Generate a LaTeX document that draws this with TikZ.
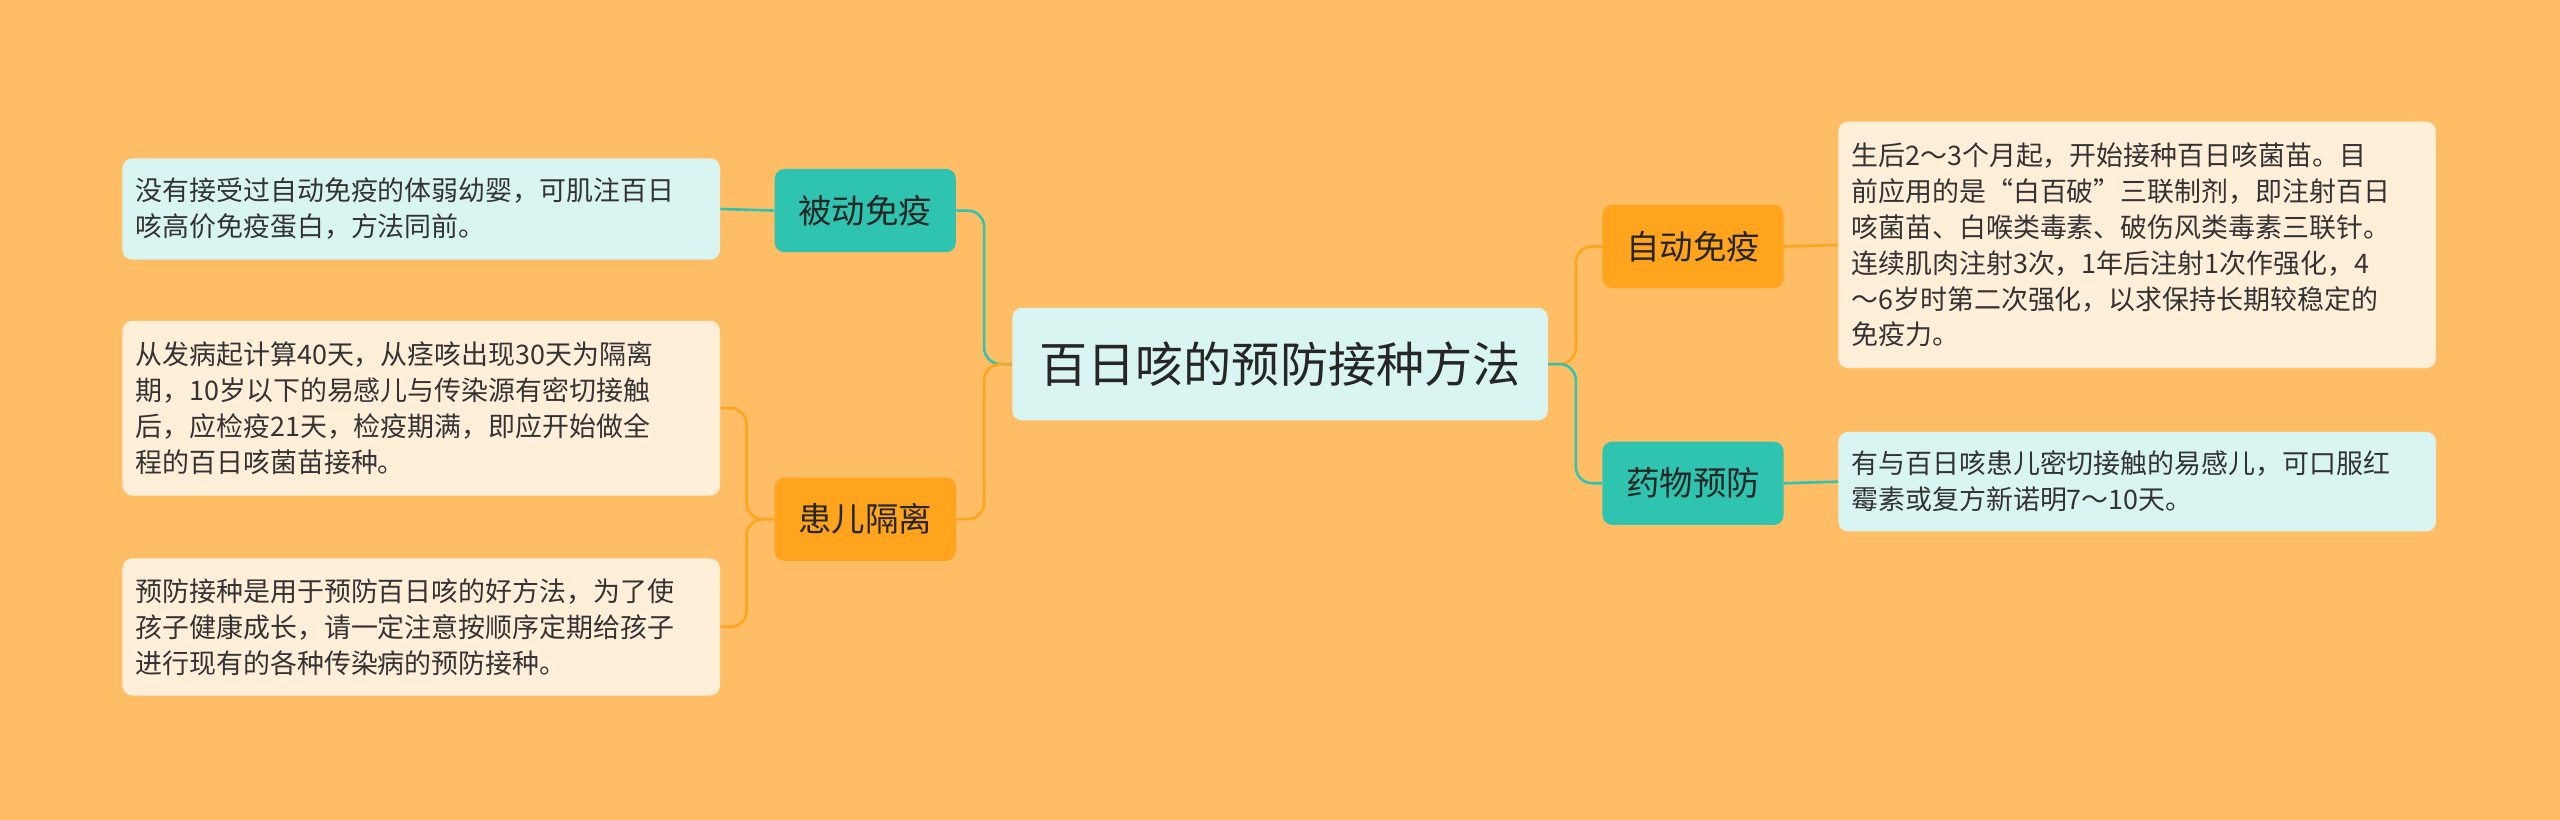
\documentclass[tikz,border=0pt]{standalone}
\usepackage{fontspec}
\setmainfont{Noto Sans CJK SC}
\begin{document}
\begin{tikzpicture}[x=1pt,y=-1pt,
  leaf/.style={rounded corners=6pt,minimum width=366pt,text width=350pt,inner sep=0pt,align=left,font=\fontsize{16.5}{22}\selectfont,text=black!80},
  branch/.style={rounded corners=6pt,minimum width=111pt,minimum height=51pt,font=\fontsize{20.5}{24}\selectfont,text=black!85},
  tl/.style={draw=teal1,line width=1.6pt,rounded corners=10pt},
  ol/.style={draw=org1,line width=1.6pt,rounded corners=10pt}]
\definecolor{bg}{HTML}{FFBE66}
\definecolor{teal1}{HTML}{2EC4B0}
\definecolor{org1}{HTML}{FFA41C}
\definecolor{lcyan}{HTML}{D8F5F1}
\definecolor{lcream}{HTML}{FFEFD9}
\fill[bg] (0,0) rectangle (1568,502);
\useasboundingbox (0,0) rectangle (1568,502);
\node[fill=lcyan,rounded corners=6pt,minimum width=328pt,minimum height=69pt,font=\fontsize{29.5}{32}\selectfont,text=black!85] (c) at (784,223) {百日咳的预防接种方法};
\node[branch,fill=teal1] (b1) at (530,129) {被动免疫};
\node[branch,fill=org1] (b2) at (530,318) {患儿隔离};
\node[branch,fill=org1] (r1) at (1037,151) {自动免疫};
\node[branch,fill=teal1] (r2) at (1037,296) {药物预防};
\node[leaf,fill=lcyan,minimum height=62pt] (l1) at (258,128) {没有接受过自动免疫的体弱幼婴，可肌注百日\\咳高价免疫蛋白，方法同前。};
\node[leaf,fill=lcream,minimum height=107pt] (l2) at (258,250) {从发病起计算40天，从痉咳出现30天为隔离\\期，10岁以下的易感儿与传染源有密切接触\\后，应检疫21天，检疫期满，即应开始做全\\程的百日咳菌苗接种。};
\node[leaf,fill=lcream,minimum height=84pt] (l3) at (258,384) {预防接种是用于预防百日咳的好方法，为了使\\孩子健康成长，请一定注意按顺序定期给孩子\\进行现有的各种传染病的预防接种。};
\node[leaf,fill=lcream,minimum height=151pt] (q1) at (1309,150) {生后2～3个月起，开始接种百日咳菌苗。目\\前应用的是“白百破”三联制剂，即注射百日\\咳菌苗、白喉类毒素、破伤风类毒素三联针。\\连续肌肉注射3次，1年后注射1次作强化，4\\～6岁时第二次强化，以求保持长期较稳定的\\免疫力。};
\node[leaf,fill=lcyan,minimum height=61pt] (q2) at (1309,295) {有与百日咳患儿密切接触的易感儿，可口服红\\霉素或复方新诺明7～10天。};
\draw[tl] (c.west) -- ++(-17,0) |- (b1.east);
\draw[ol] (c.west) -- ++(-17,0) |- (b2.east);
\draw[ol] (c.east) -- ++(17,0) |- (r1.west);
\draw[tl] (c.east) -- ++(17,0) |- (r2.west);
\draw[tl] (b1.west) -- (l1.east);
\draw[ol] (b2.west) -- ++(-17,0) |- (l2.east);
\draw[ol] (b2.west) -- ++(-17,0) |- (l3.east);
\draw[ol] (r1.east) -- (q1.west);
\draw[tl] (r2.east) -- (q2.west);
\end{tikzpicture}
\end{document}
